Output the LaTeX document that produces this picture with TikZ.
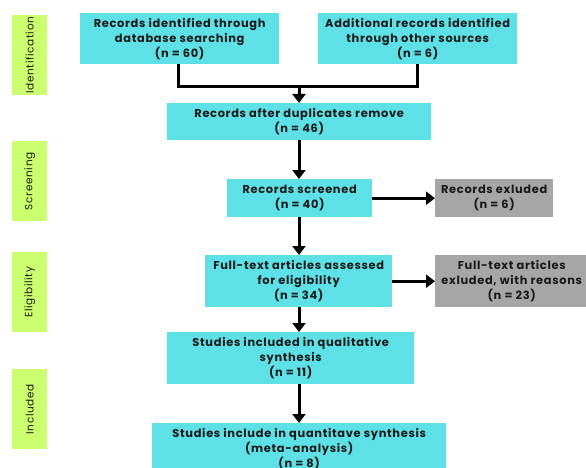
\documentclass[tikz,border=0pt]{standalone}
\usepackage{fontspec}
\setmainfont{Poppins}[LetterSpace=6]
\usetikzlibrary{arrows.meta}
\definecolor{boxcyan}{HTML}{5EE1E6}
\definecolor{boxgray}{HTML}{A6A6A6}
\definecolor{stagegreen}{HTML}{CCFF70}
\definecolor{txt}{HTML}{1A1A1A}
\tikzset{
  flowbox/.style={fill=boxcyan, draw=none, inner sep=0pt, align=center, anchor=north west,
    font=\fontsize{11.4}{15}\selectfont\bfseries, text=txt},
  graybox/.style={flowbox, fill=boxgray},
  stagebox/.style={fill=stagegreen, draw=none, inner sep=0pt, anchor=north west,
    minimum width=35pt, minimum height=80pt},
  stagetext/.style={rotate=90, font=\fontsize{10.5}{12}\selectfont, text=txt},
  flowline/.style={line width=3pt, draw=black},
  flowarrow/.style={line width=3pt, draw=black, -{Triangle[width=13pt,length=9pt]}}
}
\begin{document}
\begin{tikzpicture}[x=1pt,y=-1pt]
\useasboundingbox (0,0) rectangle (586,468);
\clip (0,0) rectangle (586,468);
% stage labels
\node[stagebox] (s1) at (12,15) {};
\node[stagetext] (s1t) at (s1.center) {Identification};
\node[stagebox] (s2) at (12,141) {};
\node[stagetext] (s2t) at (s2.center) {Screening};
\node[stagebox] (s3) at (12,252) {};
\node[stagetext] (s3t) at (s3.center) {Eligibility};
\node[stagebox] (s4) at (12,369) {};
\node[stagetext] (s4t) at (s4.center) {Included};
% boxes
\node[flowbox, minimum width=199pt, minimum height=51pt] (b1) at (80,13)
  {Records identified through\\database searching\\(n = 60)};
\node[flowbox, minimum width=199pt, minimum height=51pt] (b2) at (318,13)
  {Additional records identified\\through other sources\\(n = 6)};
\node[flowbox, minimum width=264pt, minimum height=37pt] (b3) at (167,103)
  {Records after duplicates remove\\(n = 46)};
\node[flowbox, minimum width=145pt, minimum height=38pt] (b4) at (227,179)
  {Records screened\\(n = 40)};
\node[graybox, minimum width=118pt, minimum height=38pt] (g1) at (435,179)
  {Records exluded\\(n = 6)};
\node[flowbox, minimum width=187pt, minimum height=52pt] (b5) at (205,255)
  {Full-text articles assessed\\for eligibility\\(n = 34)};
\node[graybox, minimum width=153pt, minimum height=52pt] (g2) at (435,255)
  {Full-text articles\\exluded, with reasons\\(n = 23)};
\node[flowbox, minimum width=247pt, minimum height=52pt] (b6) at (167,332)
  {Studies included in qualitative\\synthesis\\(n = 11)};
\node[flowbox, minimum width=294pt, minimum height=52pt] (b7) at (152,423)
  {Studies include in quantitave synthesis\\(meta-analysis)\\(n = 8)};
% connectors
\coordinate (j1) at (178,87);
\coordinate (j2) at (417,87);
\coordinate (jm) at (299,87);
\draw[flowline, line join=miter] (b1.south -| j1) -- (j1) -- (j2) -- (b2.south -| j2);
\draw[flowarrow] (jm) -- (jm |- b3.north);
\draw[flowarrow] (b3.south -| jm) -- (jm |- b4.north);
\draw[flowarrow] (b4.east) -- (g1.west);
\draw[flowarrow] (b4.south -| jm) -- (jm |- b5.north);
\draw[flowarrow] (b5.east) -- (g2.west);
\draw[flowarrow] (b5.south -| jm) -- (jm |- b6.north);
\draw[flowarrow] (b6.south -| jm) -- (jm |- b7.north);
\end{tikzpicture}
\end{document}
